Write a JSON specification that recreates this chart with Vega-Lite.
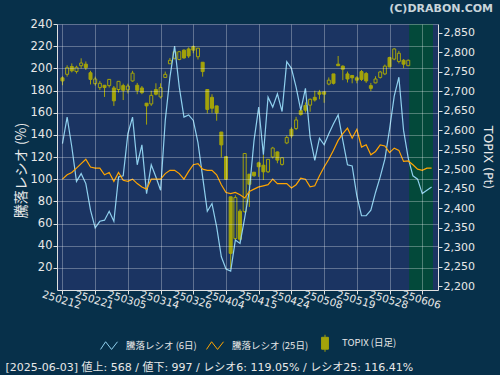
{
  "$schema": "https://vega.github.io/schema/vega-lite/v6.json",
  "width": 381,
  "height": 266,
  "autosize": {"type": "none"},
  "padding": {"left": 57, "top": 24, "right": 62, "bottom": 85},
  "background": "#07304a",
  "config": {
    "font": "DejaVu Sans",
    "view": {"fill": "#1b3462", "stroke": null},
    "axisX": {"labelOverlap": false, "labelFlush": false, "labelBound": false}
  },
  "title": {
    "text": "(C)DRABON.COM",
    "anchor": "end",
    "orient": "top",
    "frame": "bounds",
    "font": "DejaVu Sans",
    "fontSize": 11,
    "fontWeight": "bold",
    "color": "#c8d4da",
    "offset": 4
  },
  "datasets": {
    "future": [{"from": 74.2, "to": 79.3}],
    "daily": [
      {"d": "2025-02-12", "i": 0, "o": 2734, "h": 2738, "l": 2715, "c": 2726, "r6": 132, "r25": 100},
      {"d": "2025-02-13", "i": 1, "o": 2743, "h": 2766, "l": 2737, "c": 2760, "r6": 156, "r25": 104},
      {"d": "2025-02-14", "i": 2, "o": 2763, "h": 2771, "l": 2748, "c": 2752, "r6": 129, "r25": 106},
      {"d": "2025-02-17", "i": 3, "o": 2750, "h": 2765, "l": 2745, "c": 2761, "r6": 98, "r25": 110},
      {"d": "2025-02-18", "i": 4, "o": 2765, "h": 2784, "l": 2758, "c": 2772, "r6": 105, "r25": 114},
      {"d": "2025-02-19", "i": 5, "o": 2769, "h": 2776, "l": 2754, "c": 2760, "r6": 96, "r25": 118},
      {"d": "2025-02-20", "i": 6, "o": 2747, "h": 2752, "l": 2717, "c": 2730, "r6": 72, "r25": 111},
      {"d": "2025-02-21", "i": 7, "o": 2719, "h": 2737, "l": 2714, "c": 2731, "r6": 56, "r25": 110},
      {"d": "2025-02-25", "i": 8, "o": 2709, "h": 2726, "l": 2703, "c": 2720, "r6": 62, "r25": 110},
      {"d": "2025-02-26", "i": 9, "o": 2715, "h": 2715, "l": 2685, "c": 2709, "r6": 63, "r25": 104},
      {"d": "2025-02-27", "i": 10, "o": 2714, "h": 2730, "l": 2709, "c": 2730, "r6": 71, "r25": 106},
      {"d": "2025-02-28", "i": 11, "o": 2708, "h": 2713, "l": 2662, "c": 2675, "r6": 62, "r25": 98},
      {"d": "2025-03-03", "i": 12, "o": 2704, "h": 2725, "l": 2696, "c": 2725, "r6": 102, "r25": 106},
      {"d": "2025-03-04", "i": 13, "o": 2714, "h": 2719, "l": 2677, "c": 2702, "r6": 103, "r25": 99},
      {"d": "2025-03-05", "i": 14, "o": 2703, "h": 2719, "l": 2694, "c": 2713, "r6": 141, "r25": 98},
      {"d": "2025-03-06", "i": 15, "o": 2726, "h": 2752, "l": 2724, "c": 2746, "r6": 156, "r25": 100},
      {"d": "2025-03-07", "i": 16, "o": 2715, "h": 2721, "l": 2692, "c": 2702, "r6": 113, "r25": 96},
      {"d": "2025-03-10", "i": 17, "o": 2708, "h": 2713, "l": 2692, "c": 2696, "r6": 131, "r25": 93},
      {"d": "2025-03-11", "i": 18, "o": 2669, "h": 2669, "l": 2614, "c": 2662, "r6": 87, "r25": 91},
      {"d": "2025-03-12", "i": 19, "o": 2667, "h": 2701, "l": 2662, "c": 2689, "r6": 113, "r25": 100},
      {"d": "2025-03-13", "i": 20, "o": 2704, "h": 2720, "l": 2689, "c": 2692, "r6": 102, "r25": 100},
      {"d": "2025-03-14", "i": 21, "o": 2685, "h": 2720, "l": 2681, "c": 2709, "r6": 90, "r25": 100},
      {"d": "2025-03-17", "i": 22, "o": 2735, "h": 2750, "l": 2734, "c": 2743, "r6": 153, "r25": 105},
      {"d": "2025-03-18", "i": 23, "o": 2770, "h": 2785, "l": 2770, "c": 2779, "r6": 192, "r25": 108},
      {"d": "2025-03-19", "i": 24, "o": 2784, "h": 2810, "l": 2781, "c": 2801, "r6": 220, "r25": 108},
      {"d": "2025-03-21", "i": 25, "o": 2781, "h": 2803, "l": 2779, "c": 2801, "r6": 183, "r25": 105},
      {"d": "2025-03-24", "i": 26, "o": 2805, "h": 2807, "l": 2783, "c": 2785, "r6": 156, "r25": 100},
      {"d": "2025-03-25", "i": 27, "o": 2808, "h": 2812, "l": 2785, "c": 2790, "r6": 158, "r25": 107},
      {"d": "2025-03-26", "i": 28, "o": 2814, "h": 2817, "l": 2797, "c": 2805, "r6": 153, "r25": 113},
      {"d": "2025-03-27", "i": 29, "o": 2788, "h": 2810, "l": 2781, "c": 2810, "r6": 133, "r25": 114},
      {"d": "2025-03-28", "i": 30, "o": 2774, "h": 2774, "l": 2737, "c": 2750, "r6": 102, "r25": 109},
      {"d": "2025-03-31", "i": 31, "o": 2704, "h": 2704, "l": 2643, "c": 2653, "r6": 71, "r25": 108},
      {"d": "2025-04-01", "i": 32, "o": 2684, "h": 2692, "l": 2644, "c": 2656, "r6": 78, "r25": 108},
      {"d": "2025-04-02", "i": 33, "o": 2662, "h": 2662, "l": 2624, "c": 2644, "r6": 57, "r25": 104},
      {"d": "2025-04-03", "i": 34, "o": 2595, "h": 2595, "l": 2530, "c": 2562, "r6": 30, "r25": 95},
      {"d": "2025-04-04", "i": 35, "o": 2532, "h": 2533, "l": 2472, "c": 2474, "r6": 19, "r25": 88},
      {"d": "2025-04-07", "i": 36, "o": 2429, "h": 2429, "l": 2245, "c": 2284, "r6": 17, "r25": 87},
      {"d": "2025-04-08", "i": 37, "o": 2322, "h": 2433, "l": 2318, "c": 2427, "r6": 45, "r25": 88},
      {"d": "2025-04-09", "i": 38, "o": 2392, "h": 2397, "l": 2314, "c": 2320, "r6": 42, "r25": 86},
      {"d": "2025-04-10", "i": 39, "o": 2391, "h": 2540, "l": 2388, "c": 2540, "r6": 65, "r25": 83},
      {"d": "2025-04-11", "i": 40, "o": 2487, "h": 2487, "l": 2403, "c": 2461, "r6": 90, "r25": 89},
      {"d": "2025-04-14", "i": 41, "o": 2492, "h": 2492, "l": 2480, "c": 2483, "r6": 135, "r25": 91},
      {"d": "2025-04-15", "i": 42, "o": 2516, "h": 2519, "l": 2480, "c": 2506, "r6": 165, "r25": 93},
      {"d": "2025-04-16", "i": 43, "o": 2510, "h": 2536, "l": 2472, "c": 2493, "r6": 122, "r25": 94},
      {"d": "2025-04-17", "i": 44, "o": 2493, "h": 2525, "l": 2490, "c": 2525, "r6": 174, "r25": 95},
      {"d": "2025-04-18", "i": 45, "o": 2531, "h": 2557, "l": 2527, "c": 2554, "r6": 165, "r25": 100},
      {"d": "2025-04-21", "i": 46, "o": 2544, "h": 2545, "l": 2515, "c": 2523, "r6": 177, "r25": 96},
      {"d": "2025-04-22", "i": 47, "o": 2512, "h": 2531, "l": 2509, "c": 2529, "r6": 161, "r25": 96},
      {"d": "2025-04-23", "i": 48, "o": 2567, "h": 2586, "l": 2564, "c": 2581, "r6": 206, "r25": 96},
      {"d": "2025-04-24", "i": 49, "o": 2602, "h": 2607, "l": 2579, "c": 2585, "r6": 200, "r25": 92},
      {"d": "2025-04-25", "i": 50, "o": 2604, "h": 2634, "l": 2600, "c": 2626, "r6": 183, "r25": 95},
      {"d": "2025-04-28", "i": 51, "o": 2650, "h": 2658, "l": 2637, "c": 2640, "r6": 162, "r25": 101},
      {"d": "2025-04-30", "i": 52, "o": 2663, "h": 2671, "l": 2645, "c": 2651, "r6": 182, "r25": 100},
      {"d": "2025-05-01", "i": 53, "o": 2664, "h": 2681, "l": 2647, "c": 2679, "r6": 138, "r25": 93},
      {"d": "2025-05-02", "i": 54, "o": 2684, "h": 2701, "l": 2673, "c": 2677, "r6": 117, "r25": 94},
      {"d": "2025-05-07", "i": 55, "o": 2697, "h": 2703, "l": 2679, "c": 2692, "r6": 137, "r25": 103},
      {"d": "2025-05-08", "i": 56, "o": 2698, "h": 2698, "l": 2670, "c": 2692, "r6": 131, "r25": 111},
      {"d": "2025-05-09", "i": 57, "o": 2718, "h": 2735, "l": 2715, "c": 2728, "r6": 141, "r25": 118},
      {"d": "2025-05-12", "i": 58, "o": 2744, "h": 2744, "l": 2717, "c": 2720, "r6": 150, "r25": 126},
      {"d": "2025-05-13", "i": 59, "o": 2769, "h": 2790, "l": 2765, "c": 2765, "r6": 158, "r25": 135},
      {"d": "2025-05-14", "i": 60, "o": 2764, "h": 2766, "l": 2728, "c": 2756, "r6": 135, "r25": 141},
      {"d": "2025-05-15", "i": 61, "o": 2744, "h": 2750, "l": 2722, "c": 2731, "r6": 113, "r25": 146},
      {"d": "2025-05-16", "i": 62, "o": 2740, "h": 2740, "l": 2720, "c": 2734, "r6": 112, "r25": 137},
      {"d": "2025-05-19", "i": 63, "o": 2734, "h": 2738, "l": 2720, "c": 2728, "r6": 85, "r25": 145},
      {"d": "2025-05-20", "i": 64, "o": 2750, "h": 2754, "l": 2726, "c": 2730, "r6": 67, "r25": 129},
      {"d": "2025-05-21", "i": 65, "o": 2745, "h": 2749, "l": 2721, "c": 2726, "r6": 67, "r25": 131},
      {"d": "2025-05-22", "i": 66, "o": 2714, "h": 2721, "l": 2700, "c": 2707, "r6": 72, "r25": 122},
      {"d": "2025-05-23", "i": 67, "o": 2721, "h": 2738, "l": 2720, "c": 2731, "r6": 88, "r25": 125},
      {"d": "2025-05-26", "i": 68, "o": 2735, "h": 2752, "l": 2732, "c": 2749, "r6": 102, "r25": 131},
      {"d": "2025-05-27", "i": 69, "o": 2744, "h": 2768, "l": 2741, "c": 2764, "r6": 118, "r25": 130},
      {"d": "2025-05-28", "i": 70, "o": 2786, "h": 2788, "l": 2761, "c": 2762, "r6": 145, "r25": 124},
      {"d": "2025-05-29", "i": 71, "o": 2782, "h": 2810, "l": 2779, "c": 2808, "r6": 175, "r25": 128},
      {"d": "2025-05-30", "i": 72, "o": 2776, "h": 2803, "l": 2771, "c": 2797, "r6": 192, "r25": 126},
      {"d": "2025-06-02", "i": 73, "o": 2779, "h": 2782, "l": 2759, "c": 2769, "r6": 144, "r25": 116},
      {"d": "2025-06-03", "i": 74, "o": 2765, "h": 2781, "l": 2764, "c": 2779, "r6": 119.05, "r25": 116.41},
      {"d": "2025-06-04", "i": 75, "r6": 103, "r25": 113},
      {"d": "2025-06-05", "i": 76, "r6": 100, "r25": 109},
      {"d": "2025-06-06", "i": 77, "r6": 87, "r25": 108},
      {"d": "2025-06-09", "i": 78, "r6": 90, "r25": 110},
      {"d": "2025-06-10", "i": 79, "r6": 93, "r25": 110}
    ]
  },
  "layer": [
    {
      "data": {"name": "future"},
      "mark": {"type": "rect", "color": "#03493a"},
      "encoding": {
        "x": {
          "field": "from", "type": "quantitative",
          "scale": {"domain": [-0.1, 79.3], "nice": false, "zero": false},
          "axis": {
            "values": [0, 7, 14, 21, 28, 35, 42, 49, 56, 63, 70, 77],
            "labelExpr": "['250212','250221','250305','250314','250326','250404','250415','250424','250508','250519','250528','250606'][round(datum.value/7)]",
            "labelAngle": 17, "labelAlign": "center", "labelBaseline": "top", "labelOverlap": false, "labelFlush": false,
            "labelFont": "DejaVu Sans", "labelFontSize": 10.5, "labelColor": "#e8e8e8", "labelPadding": 1,
            "domainColor": "#e0e0e0", "tickColor": "#e0e0e0", "tickSize": 4,
            "grid": true, "gridColor": "#ffffff", "gridOpacity": 0.3, "zindex": 1,
            "title": "[2025-06-03]  値上: 568 / 値下: 997 / レシオ6: 119.05% / レシオ25: 116.41%",
            "titleFont": "DejaVu Sans, Noto Sans CJK JP", "titleFontSize": 11, "titleFontWeight": "normal", "titleColor": "#e8e8e8",
            "titleX": -52, "titleY": 80, "titleAlign": "left", "titleAnchor": "start", "titleBaseline": "alphabetic"
          }
        },
        "x2": {"field": "to"}
      }
    },
    {
      "data": {"name": "daily"},
      "mark": {"type": "rule", "strokeWidth": 1},
      "encoding": {
        "x": {
          "field": "i", "type": "quantitative",
          "scale": {"domain": [-0.1, 79.3], "nice": false, "zero": false},
          "axis": {
            "values": [0, 7, 14, 21, 28, 35, 42, 49, 56, 63, 70, 77],
            "labelExpr": "['250212','250221','250305','250314','250326','250404','250415','250424','250508','250519','250528','250606'][round(datum.value/7)]",
            "labelAngle": 17, "labelAlign": "center", "labelBaseline": "top", "labelOverlap": false, "labelFlush": false,
            "labelFont": "DejaVu Sans", "labelFontSize": 10.5, "labelColor": "#e8e8e8", "labelPadding": 1,
            "domainColor": "#e0e0e0", "tickColor": "#e0e0e0", "tickSize": 4,
            "grid": true, "gridColor": "#ffffff", "gridOpacity": 0.3, "zindex": 1,
            "title": "[2025-06-03]  値上: 568 / 値下: 997 / レシオ6: 119.05% / レシオ25: 116.41%",
            "titleFont": "DejaVu Sans, Noto Sans CJK JP", "titleFontSize": 11, "titleFontWeight": "normal", "titleColor": "#e8e8e8",
            "titleX": -52, "titleY": 80, "titleAlign": "left", "titleAnchor": "start", "titleBaseline": "alphabetic"
          }
        },
        "y": {
          "field": "l",
          "type": "quantitative",
          "scale": {"domain": [2190, 2872], "nice": false, "zero": false},
          "axis": {
            "orient": "right",
            "values": [2200, 2250, 2300, 2350, 2400, 2450, 2500, 2550, 2600, 2650, 2700, 2750, 2800, 2850],
            "format": ",.0f",
            "grid": false,
            "labelFont": "DejaVu Sans",
            "labelFontSize": 11,
            "labelColor": "#e8e8e8",
            "labelPadding": 1,
            "domainColor": "#e0e0e0",
            "tickColor": "#e0e0e0",
            "tickSize": 4,
            "zindex": 1,
            "title": "TOPIX (Pt)",
            "titleFont": "DejaVu Sans",
            "titleFontSize": 12.5,
            "titleFontWeight": "normal",
            "titleColor": "#e8e8e8",
            "titleAngle": 90,
            "titleX": 49,
            "titleY": 133,
            "titleAlign": "center",
            "titleBaseline": "middle"
          }
        },
        "y2": {"field": "h"},
        "color": {"datum": "TOPIX (日足)", "scale": {"domain": ["騰落レシオ (6日)", "騰落レシオ (25日)", "TOPIX (日足)"], "range": ["#8fd0ee", "#ffa500", "#a3a30a"]}}
      }
    },
    {
      "data": {"name": "daily"},
      "mark": {"type": "bar", "size": 3, "stroke": "#a3a30a", "strokeWidth": 1},
      "encoding": {
        "x": {
          "field": "i", "type": "quantitative",
          "scale": {"domain": [-0.1, 79.3], "nice": false, "zero": false},
          "axis": {
            "values": [0, 7, 14, 21, 28, 35, 42, 49, 56, 63, 70, 77],
            "labelExpr": "['250212','250221','250305','250314','250326','250404','250415','250424','250508','250519','250528','250606'][round(datum.value/7)]",
            "labelAngle": 17, "labelAlign": "center", "labelBaseline": "top", "labelOverlap": false, "labelFlush": false,
            "labelFont": "DejaVu Sans", "labelFontSize": 10.5, "labelColor": "#e8e8e8", "labelPadding": 1,
            "domainColor": "#e0e0e0", "tickColor": "#e0e0e0", "tickSize": 4,
            "grid": true, "gridColor": "#ffffff", "gridOpacity": 0.3, "zindex": 1,
            "title": "[2025-06-03]  値上: 568 / 値下: 997 / レシオ6: 119.05% / レシオ25: 116.41%",
            "titleFont": "DejaVu Sans, Noto Sans CJK JP", "titleFontSize": 11, "titleFontWeight": "normal", "titleColor": "#e8e8e8",
            "titleX": -52, "titleY": 80, "titleAlign": "left", "titleAnchor": "start", "titleBaseline": "alphabetic"
          }
        },
        "y": {"field": "o", "type": "quantitative", "scale": {"domain": [2190, 2872], "nice": false, "zero": false}, "axis": null},
        "y2": {"field": "c"},
        "fill": {"condition": {"test": "datum.c < datum.o", "value": "#a3a30a"}, "value": "#1b3462"}
      }
    },
    {
      "data": {"name": "daily"},
      "mark": {"type": "line", "strokeWidth": 1.2},
      "encoding": {
        "x": {
          "field": "i", "type": "quantitative",
          "scale": {"domain": [-0.1, 79.3], "nice": false, "zero": false},
          "axis": {
            "values": [0, 7, 14, 21, 28, 35, 42, 49, 56, 63, 70, 77],
            "labelExpr": "['250212','250221','250305','250314','250326','250404','250415','250424','250508','250519','250528','250606'][round(datum.value/7)]",
            "labelAngle": 17, "labelAlign": "center", "labelBaseline": "top", "labelOverlap": false, "labelFlush": false,
            "labelFont": "DejaVu Sans", "labelFontSize": 10.5, "labelColor": "#e8e8e8", "labelPadding": 1,
            "domainColor": "#e0e0e0", "tickColor": "#e0e0e0", "tickSize": 4,
            "grid": true, "gridColor": "#ffffff", "gridOpacity": 0.3, "zindex": 1,
            "title": "[2025-06-03]  値上: 568 / 値下: 997 / レシオ6: 119.05% / レシオ25: 116.41%",
            "titleFont": "DejaVu Sans, Noto Sans CJK JP", "titleFontSize": 11, "titleFontWeight": "normal", "titleColor": "#e8e8e8",
            "titleX": -52, "titleY": 80, "titleAlign": "left", "titleAnchor": "start", "titleBaseline": "alphabetic"
          }
        },
        "y": {
          "field": "r6",
          "type": "quantitative",
          "scale": {"domain": [0, 240], "nice": false, "zero": true},
          "axis": {
            "orient": "left",
            "values": [20, 40, 60, 80, 100, 120, 140, 160, 180, 200, 220, 240],
            "grid": true,
            "gridColor": "#ffffff",
            "gridOpacity": 0.3,
            "zindex": 1,
            "labelFont": "DejaVu Sans",
            "labelFontSize": 11.5,
            "labelColor": "#e8e8e8",
            "labelPadding": 1,
            "domainColor": "#e0e0e0",
            "tickColor": "#e0e0e0",
            "tickSize": 4,
            "title": "騰落レシオ (%)",
            "titleFont": "Noto Sans CJK JP",
            "titleFontSize": 14,
            "titleFontWeight": "normal",
            "titleColor": "#e8e8e8",
            "titleAngle": -90,
            "titleX": -36,
            "titleY": 146,
            "titleAlign": "center",
            "titleBaseline": "middle"
          }
        },
        "color": {
          "datum": "騰落レシオ (6日)",
          "scale": {"domain": ["騰落レシオ (6日)", "騰落レシオ (25日)", "TOPIX (日足)"], "range": ["#8fd0ee", "#ffa500", "#a3a30a"]},
          "legend": {
            "orient": "none",
            "legendX": 43,
            "legendY": 310,
            "direction": "horizontal",
            "title": null,
            "padding": 0,
            "labelFont": "Noto Sans CJK JP",
            "labelFontSize": 9.5,
            "labelColor": "#e8e8e8",
            "labelOffset": 8,
            "columnPadding": 7,
            "symbolSize": 289,
            "symbolStrokeWidth": 1,
            "encode": {
              "symbols": {
                "update": {
                  "shape": {"signal": "datum.value === 'TOPIX (日足)' ? 'M0,-1L0,-0.7M0,0.7L0,1M-0.4,-0.7L0.4,-0.7L0.4,0.7L-0.4,0.7Z' : 'M-1,0.45L-0.4,-0.45L0.3,0.45L1,-0.45'"},
                  "fill": {"signal": "datum.value === 'TOPIX (日足)' ? '#a3a30a' : 'transparent'"},
                  "stroke": {"signal": "datum.value === '騰落レシオ (6日)' ? '#8fd0ee' : (datum.value === '騰落レシオ (25日)' ? '#ffa500' : '#a3a30a')"},
                  "strokeWidth": {"value": 1},
                  "opacity": {"value": 1}
                }
              }
            }
          }
        }
      }
    },
    {
      "data": {"name": "daily"},
      "mark": {"type": "line", "strokeWidth": 1.2},
      "encoding": {
        "x": {
          "field": "i", "type": "quantitative",
          "scale": {"domain": [-0.1, 79.3], "nice": false, "zero": false},
          "axis": {
            "values": [0, 7, 14, 21, 28, 35, 42, 49, 56, 63, 70, 77],
            "labelExpr": "['250212','250221','250305','250314','250326','250404','250415','250424','250508','250519','250528','250606'][round(datum.value/7)]",
            "labelAngle": 17, "labelAlign": "center", "labelBaseline": "top", "labelOverlap": false, "labelFlush": false,
            "labelFont": "DejaVu Sans", "labelFontSize": 10.5, "labelColor": "#e8e8e8", "labelPadding": 1,
            "domainColor": "#e0e0e0", "tickColor": "#e0e0e0", "tickSize": 4,
            "grid": true, "gridColor": "#ffffff", "gridOpacity": 0.3, "zindex": 1,
            "title": "[2025-06-03]  値上: 568 / 値下: 997 / レシオ6: 119.05% / レシオ25: 116.41%",
            "titleFont": "DejaVu Sans, Noto Sans CJK JP", "titleFontSize": 11, "titleFontWeight": "normal", "titleColor": "#e8e8e8",
            "titleX": -52, "titleY": 80, "titleAlign": "left", "titleAnchor": "start", "titleBaseline": "alphabetic"
          }
        },
        "y": {"field": "r25", "type": "quantitative", "scale": {"domain": [0, 240], "nice": false, "zero": true}, "axis": null},
        "color": {"datum": "騰落レシオ (25日)", "scale": {"domain": ["騰落レシオ (6日)", "騰落レシオ (25日)", "TOPIX (日足)"], "range": ["#8fd0ee", "#ffa500", "#a3a30a"]}}
      }
    }
  ],
  "resolve": {"scale": {"y": "independent"}}
}
